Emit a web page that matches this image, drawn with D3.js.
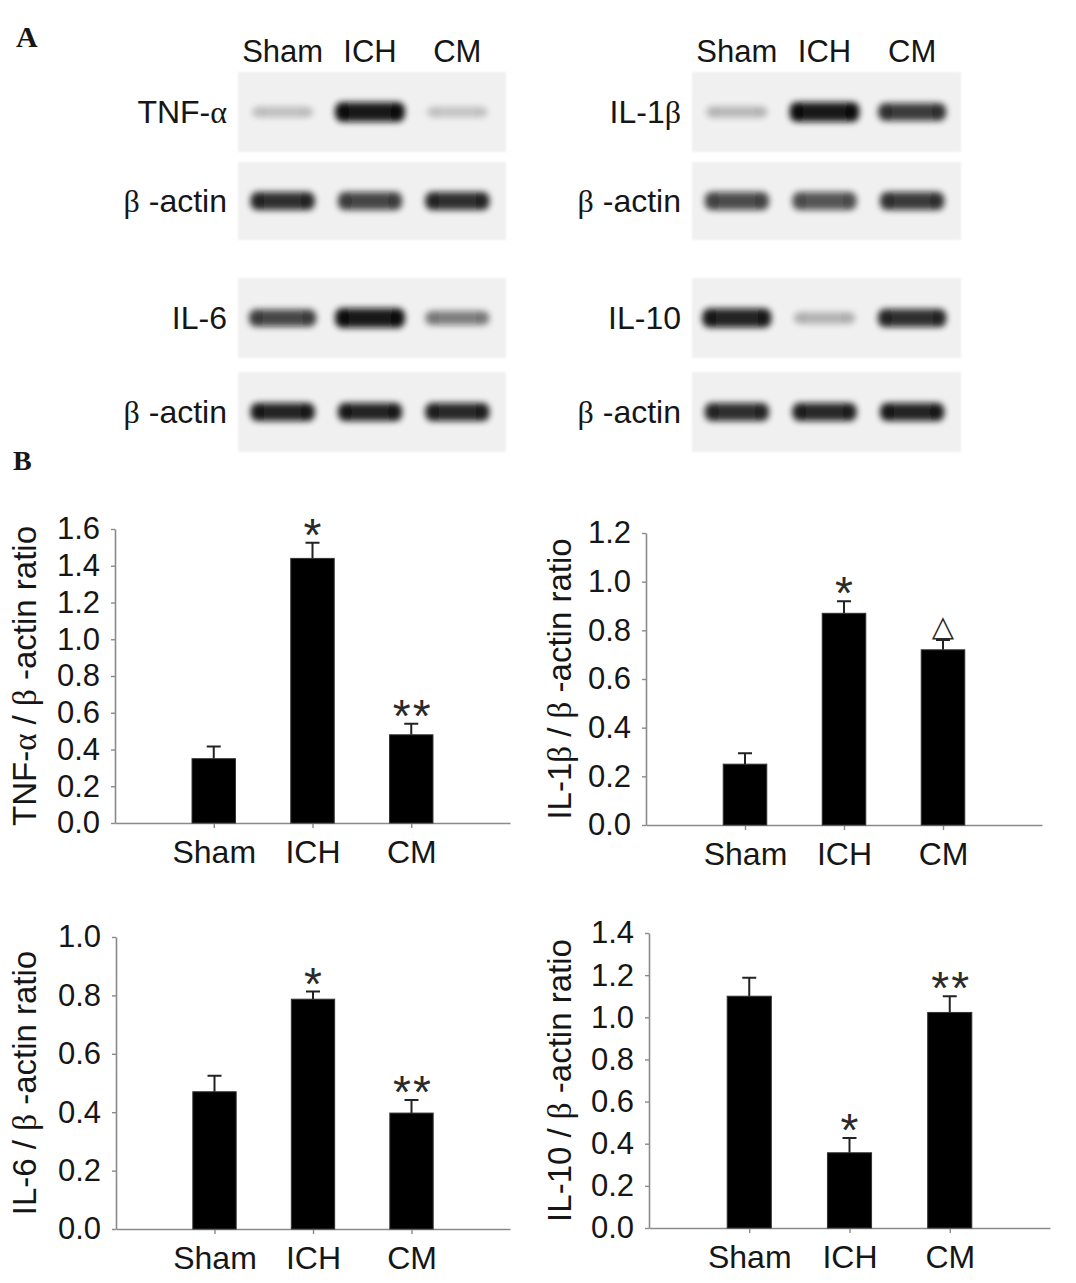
<!DOCTYPE html>
<html>
<head>
<meta charset="utf-8">
<script src="https://cdn.jsdelivr.net/npm/d3@7"></script>
<style>
  body { margin: 0; background: #fff; }
  svg { display: block; font-family: "Liberation Sans", Arial, sans-serif; }
</style>
</head>
<body>
<svg width="1076" height="1283"></svg>
<script>
const svg = d3.select("svg");

// groups and proteins
const groups = ["Sham", "ICH", "CM"];
const proteins = ["TNF-α", "IL-1β", "IL-6", "IL-10"];

// blot band intensities (0..1)
const tnfBand = [0.22, 0.95, 0.2];
const tnfActin = [0.85, 0.75, 0.85];
const il1bBand = [0.25, 0.95, 0.8];
const il1bActin = [0.72, 0.68, 0.8];
const il6Band = [0.75, 0.95, 0.5];
const il6Actin = [0.9, 0.9, 0.88];
const il10Band = [0.9, 0.28, 0.85];
const il10Actin = [0.85, 0.88, 0.9];

// densitometry means, SEM and significance marks
const tnfMean = [0.35, 1.44, 0.48];
const tnfErr = [0.067, 0.085, 0.06];
const tnfSig = ["", "*", "**"];
const il1bMean = [0.25, 0.87, 0.72];
const il1bErr = [0.045, 0.05, 0.04];
const il1bSig = ["", "*", "△"];
const il6Mean = [0.47, 0.787, 0.397];
const il6Err = [0.055, 0.026, 0.045];
const il6Sig = ["", "*", "**"];
const il10Mean = [1.10, 0.357, 1.023];
const il10Err = [0.088, 0.07, 0.077];
const il10Sig = ["", "*", "**"];

const yMax = [1.6, 1.2, 1.0, 1.4];

// text with greek letters in a serif face
function richText(sel, str) {
  str.split(/([αβ])/).forEach(function(part) {
    if (!part) return;
    const t = sel.append("tspan").text(part);
    if (part === "α" || part === "β") t.attr("font-family", "'Liberation Serif', 'Times New Roman', serif");
  });
  return sel;
}

const ink = "#161616";

// ---------- panel letters ----------
svg.append("text").attr("x", 16).attr("y", 47).text("A")
  .attr("font-family", "'Liberation Serif', serif").attr("font-weight", "bold").attr("font-size", 30).attr("fill", ink);
svg.append("text").attr("x", 13).attr("y", 470).text("B")
  .attr("font-family", "'Liberation Serif', serif").attr("font-weight", "bold").attr("font-size", 28).attr("fill", ink);

// ---------- western blots ----------
const defs = svg.append("defs");
defs.append("filter").attr("id", "blur").attr("x", "-20%").attr("y", "-100%").attr("width", "140%").attr("height", "300%")
  .append("feGaussianBlur").attr("stdDeviation", 3);
defs.append("filter").attr("id", "soft")
  .append("feGaussianBlur").attr("stdDeviation", 0.8);

const blots = [
  { label: proteins[0], band: tnfBand, actin: tnfActin, x: [238, 506], y: [72, 152], ya: [162, 240], head: true },
  { label: proteins[1], band: il1bBand, actin: il1bActin, x: [692, 961], y: [72, 152], ya: [162, 240], head: true },
  { label: proteins[2], band: il6Band, actin: il6Actin, x: [238, 506], y: [278, 358], ya: [372, 452] },
  { label: proteins[3], band: il10Band, actin: il10Actin, x: [692, 961], y: [278, 358], ya: [372, 452] }
];

blots.forEach(function(b) {
  const lane = d3.scaleBand().domain(groups).range([b.x[0] + 1, b.x[1] - 5]);
  const g = svg.append("g");

  if (b.head) {
    g.selectAll(".head").data(groups).enter().append("text")
      .attr("x", d => lane(d) + lane.bandwidth() / 2)
      .attr("y", 62)
      .attr("text-anchor", "middle")
      .attr("font-size", 31)
      .attr("fill", ink)
      .text(d => d);
  }

  [[b.label, b.band, b.y, 1], ["β -actin", b.actin, b.ya, 0]].forEach(function(row) {
    const [name, vals, yr, isTarget] = row;
    const cy = (yr[0] + yr[1]) / 2;
    g.append("rect")
      .attr("x", b.x[0]).attr("y", yr[0])
      .attr("width", b.x[1] - b.x[0]).attr("height", yr[1] - yr[0])
      .attr("fill", "#f0f0f0").attr("filter", "url(#soft)");

    richText(g.append("text")
      .attr("x", b.x[0] - 11).attr("y", cy + 11)
      .attr("text-anchor", "end").attr("font-size", 32).attr("fill", ink), name);

    const bands = g.selectAll(null).data(vals).enter().append("g")
      .attr("filter", "url(#blur)")
      .attr("opacity", d => d);
    const bw = d => isTarget ? 58 + 12 * d : 64;
    const cx = (d, i) => lane(groups[i]) + lane.bandwidth() / 2;
    bands.append("rect")
      .attr("x", (d, i) => cx(d, i) - bw(d) / 2)
      .attr("y", d => cy - (isTarget ? 4 + 6 * d : 9))
      .attr("width", bw)
      .attr("height", d => isTarget ? 8 + 12 * d : 18)
      .attr("rx", 7)
      .attr("fill", "#0d0d0d");
    // slightly darker ends, like real bands
    [-1, 1].forEach(function(s) {
      bands.append("ellipse")
        .attr("cx", (d, i) => cx(d, i) + s * (bw(d) / 2 - 7))
        .attr("cy", cy)
        .attr("rx", 7)
        .attr("ry", d => isTarget ? 4 + 6 * d : 9)
        .attr("fill", "#000");
    });
  });
});

// ---------- bar charts ----------
const charts = [
  { name: proteins[0], mean: tnfMean, err: tnfErr, sig: tnfSig, max: yMax[0], box: [115, 510, 529, 823] },
  { name: proteins[1], mean: il1bMean, err: il1bErr, sig: il1bSig, max: yMax[1], box: [646, 1042, 533, 825] },
  { name: proteins[2], mean: il6Mean, err: il6Err, sig: il6Sig, max: yMax[2], box: [116, 510, 937, 1229] },
  { name: proteins[3], mean: il10Mean, err: il10Err, sig: il10Sig, max: yMax[3], box: [649, 1050, 933, 1228] }
];

const axisGrey = "#8a8a8a";

charts.forEach(function(c) {
  const [x0, x1, y0, y1] = c.box;
  const x = d3.scaleLinear().domain([0, 4]).range([x0, x1]);
  const y = d3.scaleLinear().domain([0, c.max]).range([y1, y0]);
  const bw = 0.44 * (x(1) - x(0));
  const g = svg.append("g");
  const ticks = d3.range(0, c.max + 1e-6, 0.2);

  const yAxis = g.append("g").attr("transform", `translate(${x0},0)`)
    .call(d3.axisLeft(y).tickValues(ticks).tickSize(4).tickSizeOuter(0).tickPadding(11).tickFormat(d3.format(".1f")));
  const xAxis = g.append("g").attr("transform", `translate(0,${y1})`)
    .call(d3.axisBottom(x).tickValues([1, 2, 3]).tickSize(5).tickSizeOuter(0).tickPadding(12).tickFormat(d => groups[d - 1]));

  [yAxis, xAxis].forEach(function(a) {
    a.select(".domain").attr("stroke", axisGrey).attr("stroke-width", 1.6);
    a.selectAll(".tick line").attr("stroke", axisGrey).attr("stroke-width", 1.4);
    a.selectAll(".tick text").attr("font-size", 31).attr("fill", ink)
      .attr("font-family", "'Liberation Sans', Arial, sans-serif");
  });
  xAxis.selectAll(".tick text").attr("font-size", 32);

  // error bars (drawn first so the bar covers the stem bottom)
  g.selectAll(".err").data(c.mean).enter().append("path")
    .attr("d", (d, i) => {
      const cx = x(i + 1), top = y(d + c.err[i]);
      return `M${cx},${y(d)}V${top}M${cx - 7},${top}H${cx + 7}`;
    })
    .attr("stroke", "#222").attr("stroke-width", 2).attr("fill", "none");

  g.selectAll(".bar").data(c.mean).enter().append("rect")
    .attr("x", (d, i) => x(i + 1) - bw / 2)
    .attr("y", d => y(d))
    .attr("width", bw)
    .attr("height", d => y1 - y(d))
    .attr("fill", "#000")
    .attr("stroke", "#333").attr("stroke-width", 1);

  // significance marks
  g.selectAll(".sig").data(c.sig).enter().append("text")
    .attr("x", (d, i) => x(i + 1) + (d === "**" ? 1.5 : 0))
    .attr("y", (d, i) => y(c.mean[i] + c.err[i]) - 14 + (d === "△" ? 10 : 22))
    .attr("text-anchor", "middle")
    .attr("font-size", d => d === "△" ? 29 : 46)
    .attr("letter-spacing", d => d === "**" ? 2 : 0)
    .attr("font-family", d => d === "△" ? "'DejaVu Sans', sans-serif" : "'Liberation Sans', Arial, sans-serif")
    .attr("fill", "#2a2a2a")
    .text(d => d);

  // y title
  const cyT = (y0 + y1) / 2;
  const cxT = x0 < 500 ? 25 : 560;
  richText(g.append("text")
    .attr("transform", `translate(${cxT + 11},${cyT}) rotate(-90)`)
    .attr("text-anchor", "middle").attr("font-size", 33).attr("fill", ink),
    c.name + " / β -actin ratio");
});
</script>
</body>
</html>
